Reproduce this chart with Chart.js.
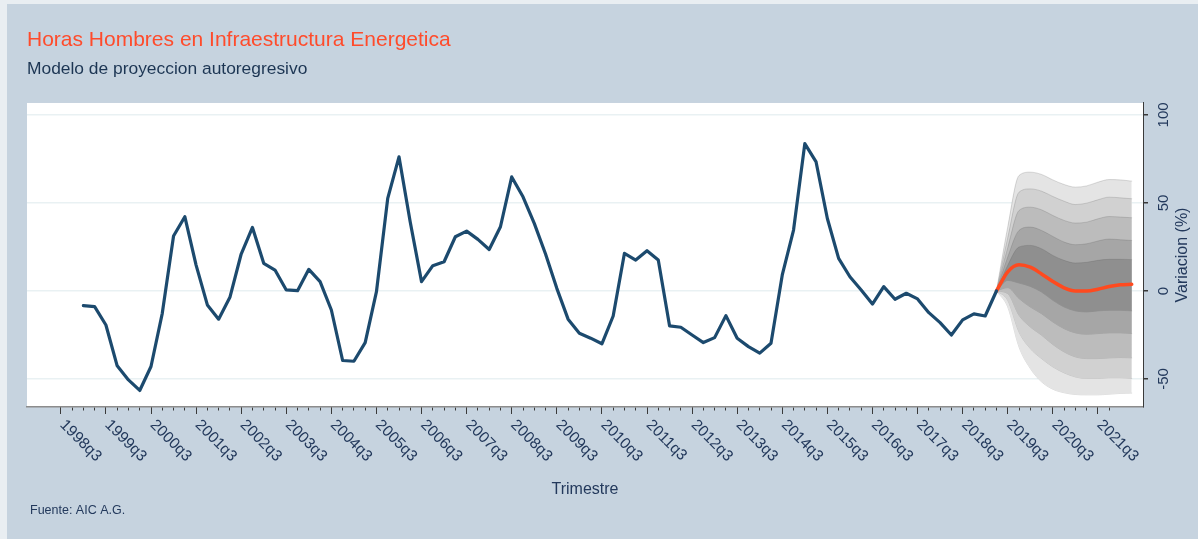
<!DOCTYPE html>
<html>
<head>
<meta charset="utf-8">
<script src="https://cdn.jsdelivr.net/npm/chart.js@4.4.1/dist/chart.umd.min.js"></script>
<style>
  html, body { margin: 0; padding: 0; background: #e9eef2; }
  #panel { position: absolute; left: 7px; top: 4px; width: 1191px; height: 535px; background: #c6d3df; }
  #chart { position: absolute; left: 0; top: 0; }
</style>
</head>
<body>
<div id="panel"></div>
<canvas id="chart" width="1198" height="539"></canvas>
<script>
const FONT = '"Liberation Sans", Arial, Helvetica, sans-serif'
const TEXT_COLOR = '#23395c'
const HIST_COLOR = '#1c4a6e'
const FORECAST_COLOR = '#ff4a1f'

const TITLE = 'Horas Hombres en Infraestructura Energetica'
const SUBTITLE = 'Modelo de proyeccion autoregresivo'
const X_TITLE = 'Trimestre'
const Y_TITLE = 'Variacion (%)'
const SOURCE = 'Fuente: AIC A.G.'

// x positions are quarters counted from 1998q3 (= 0)
const X_MIN = -3
const X_MAX = 96
const LAST_MINOR_TICK = 93 // 2021q4
const tickLabels = ['1998q3', '1999q3', '2000q3', '2001q3', '2002q3', '2003q3', '2004q3', '2005q3',
    '2006q3', '2007q3', '2008q3', '2009q3', '2010q3', '2011q3', '2012q3', '2013q3',
    '2014q3', '2015q3', '2016q3', '2017q3', '2018q3', '2019q3', '2020q3', '2021q3']
const yTickValues = [-50, 0, 50, 100]

// observed series, 1999q1 .. 2019q2
const HIST_START = 2
const histValues = [
    -8.3, -8.9, -19.3, -42.5, -50.5, -56.5, -42.9, -12.7, 31.2, 42.2,
    14.7, -7.9, -16, -3.6, 21, 36.1, 15.7, 11.9, 0.6, 0.2,
    12.3, 5.3, -10.8, -39.5, -39.9, -29.3, -0.4, 52.6, 76.2, 39,
    5.3, 14.4, 16.6, 30.8, 34, 29.3, 23.6, 36.5, 64.8, 53.5,
    38.4, 21, 1.5, -16, -24, -26.8, -30, -14.2, 21.4, 17.6,
    22.9, 17.6, -19.8, -20.6, -25, -29.3, -26.5, -14, -26.8, -31.6,
    -35.3, -29.7, 9.1, 34.6, 83.7, 73.3, 41.2, 18.5, 8.1, 0.6,
    -7.4, 2.5, -4.7, -1.3, -4.5, -12.3, -18, -25, -16.4, -13,
    -14.2, 0
]

// forecast, 2019q2 .. 2022q2
const FC_START = 83
const forecast = [0, 10.9, 14.9, 13.5, 9.7, 5.4, 1.8, 0, 0, 1, 2.5, 3.5, 3.8]
const band1Upper = [0, 36.3, 65.6, 67.5, 66.2, 63.1, 60.5, 59.0, 59.7, 61.8, 63.3, 63.1, 62.4]
const band2Upper = [0, 30.2, 56.1, 58.0, 56.7, 53.7, 51.0, 49.1, 49.9, 51.8, 53.3, 52.9, 52.4]
const band3Upper = [0, 24.6, 45.7, 47.6, 46.1, 42.9, 40.1, 38.6, 39.1, 41.0, 42.3, 42.0, 41.6]
const band4Upper = [0, 19.3, 34.4, 36.3, 34.4, 31.0, 27.8, 26.3, 26.8, 28.4, 29.5, 29.1, 28.7]
const band5Upper = [0, 14.6, 25.0, 25.9, 24.0, 20.2, 17.4, 15.9, 16.3, 17.4, 18.0, 18.0, 17.8]
const band5Lower = [0, 6.0, 4.5, 2.6, -0.6, -5.3, -9.1, -11.3, -11.9, -11.3, -11.0, -11.0, -11.3]
const band4Lower = [0, 1.9, -4.3, -9.1, -12.9, -17.6, -21.4, -23.8, -24.6, -24.2, -23.8, -23.8, -24.2]
const band3Lower = [0, -1.5, -13.8, -20.4, -25.1, -30.4, -34.6, -37.4, -38.4, -38.4, -38.0, -37.8, -38.0]
const band2Lower = [0, -5.3, -23.3, -32.7, -38.4, -43.1, -46.5, -48.8, -49.7, -49.7, -49.3, -49.3, -49.7]
const band1Lower = [0, -9.1, -31.8, -44.0, -51.6, -55.8, -57.8, -58.8, -59.0, -59.0, -58.6, -58.2, -58.0]
const bandColors = ['#e4e4e4', '#d1d1d1', '#bcbcbc', '#a6a6a6', '#8f8f8f']

const Y_MIN = -65.9
const Y_MAX = 106.8


const histPoints = histValues.map((v, k) => ({ x: HIST_START + k, y: v }))
const fcPoints = arr => arr.map((v, k) => ({ x: FC_START + k, y: v }))

const datasets = [
    {
        data: histPoints,
        borderColor: HIST_COLOR,
        borderWidth: 3.2,
        pointRadius: 0,
        fill: false,
        order: 0,
    },
    {
        data: fcPoints(forecast),
        borderColor: FORECAST_COLOR,
        borderWidth: 3.5,
        pointRadius: 0,
        fill: false,
        cubicInterpolationMode: 'monotone',
        order: 0,
    },
]

const bandPairs = [
    [band1Upper, band1Lower],
    [band2Upper, band2Lower],
    [band3Upper, band3Lower],
    [band4Upper, band4Lower],
    [band5Upper, band5Lower],
]
bandPairs.forEach(([upper, lower], k) => {
    const lowerIndex = datasets.length + 1
    const edge = {
        borderColor: 'rgba(80,80,80,0.25)',
        borderWidth: 0.8,
        pointRadius: 0,
        cubicInterpolationMode: 'monotone',
        order: 10 - k,
    }
    datasets.push({ ...edge, data: fcPoints(upper), backgroundColor: bandColors[k], fill: lowerIndex })
    datasets.push({ ...edge, data: fcPoints(lower), fill: false })
})


const chartAreaBackground = {
    id: 'chartAreaBackground',
    beforeDraw(chart) {
        const { ctx, chartArea } = chart
        ctx.save()
        ctx.fillStyle = '#ffffff'
        ctx.fillRect(chartArea.left, chartArea.top, chartArea.right - chartArea.left, chartArea.bottom - chartArea.top)
        ctx.restore()
    }
}

// Stata style texts: slanted quarter labels, upward right title, source note
const stataTexts = {
    id: 'stataTexts',
    afterDraw(chart) {
        const { ctx, chartArea } = chart
        const xs = chart.scales.x2
        ctx.save()
        ctx.fillStyle = TEXT_COLOR
        ctx.font = `15.5px ${FONT}`
        ctx.textAlign = 'left'
        ctx.textBaseline = 'middle'
        xs.ticks.forEach(t => {
            const px = xs.getPixelForValue(t.value)
            ctx.save()
            ctx.translate(px, chartArea.bottom + 14)
            ctx.rotate(Math.PI / 4)
            ctx.fillText(t.label, 2, 0)
            ctx.restore()
        })

        const ys = chart.scales.y
        ctx.save()
        ctx.font = `16px ${FONT}`
        ctx.textAlign = 'center'
        ctx.translate(ys.right - 15, (chartArea.top + chartArea.bottom) / 2)
        ctx.rotate(-Math.PI / 2)
        ctx.fillText(Y_TITLE, 0, 0)
        ctx.restore()

        ctx.font = `12.5px ${FONT}`
        ctx.fillText(SOURCE, 30, 511)
        ctx.restore()
    }
}

new Chart(document.getElementById('chart'), {
    type: 'line',
    data: { datasets },
    plugins: [chartAreaBackground, stataTexts],
    options: {
        responsive: false,
        animation: false,
        devicePixelRatio: 1,
        layout: { padding: { left: 27, right: 0, top: 0, bottom: 0 } },
        elements: { line: { tension: 0, borderJoinStyle: 'round', borderCapStyle: 'round' } },
        plugins: {
            legend: { display: false },
            tooltip: { enabled: false },
            title: {
                display: true,
                text: TITLE,
                align: 'start',
                color: '#ff4b2b',
                font: { family: FONT, size: 21, weight: 'normal' },
                padding: { top: 27.4, bottom: 0 },
            },
            subtitle: {
                display: true,
                text: SUBTITLE,
                align: 'start',
                color: '#1c3553',
                font: { family: FONT, size: 17.4, weight: 'normal' },
                padding: { top: 5.7, bottom: 23.8 },
            },
        },
        scales: {
            x: {
                type: 'linear',
                position: 'bottom',
                weight: 1,
                min: X_MIN,
                max: X_MAX,
                ticks: { display: false, stepSize: 1 },
                afterBuildTicks: s => { s.ticks = s.ticks.filter(t => t.value >= 0 && t.value <= LAST_MINOR_TICK) },
                afterFit: s => { s.height = 0 },
                grid: { drawOnChartArea: false, tickLength: 3.5, tickColor: '#3a3a3a', tickWidth: 1 },
                border: { display: true, color: '#8c8c8c', width: 1.5 },
            },
            x2: {
                type: 'linear',
                position: 'bottom',
                weight: 2,
                min: X_MIN,
                max: X_MAX,
                ticks: { display: false, callback: (v, i) => tickLabels[i] },
                afterBuildTicks: s => { s.ticks = tickLabels.map((_, k) => ({ value: k * 4 })) },
                afterFit: s => { s.height = 132 },
                grid: { drawOnChartArea: false, tickLength: 7, tickColor: '#3a3a3a', tickWidth: 1 },
                border: { display: false },
                title: {
                    display: true,
                    text: X_TITLE,
                    color: TEXT_COLOR,
                    font: { family: FONT, size: 16 },
                    padding: { top: 0, bottom: 40 },
                },
            },
            y: {
                type: 'linear',
                position: 'right',
                min: Y_MIN,
                max: Y_MAX,
                afterBuildTicks: s => { s.ticks = yTickValues.map(v => ({ value: v })) },
                afterFit: s => { s.width = 55 },
                ticks: {
                    color: TEXT_COLOR,
                    font: { family: FONT, size: 15 },
                    minRotation: 90,
                    maxRotation: 90,
                    crossAlign: 'center',
                    padding: 3,
                },
                grid: { color: '#e9f1f3', lineWidth: 1.5, tickLength: 5, tickColor: '#3a3a3a' },
                border: { display: true, color: '#3a3a3a', width: 1 },
            },
        },
    },
})
</script>
</body>
</html>
